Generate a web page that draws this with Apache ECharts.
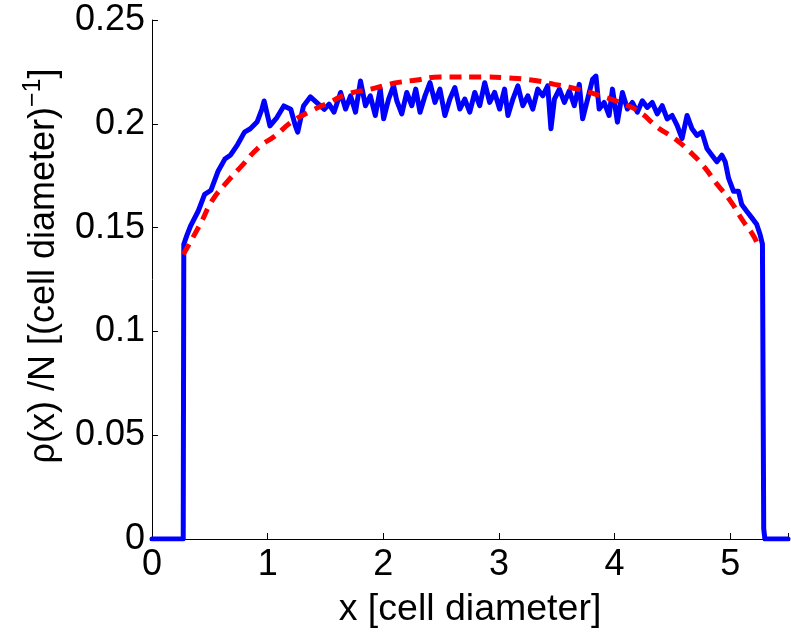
<!DOCTYPE html>
<html>
<head>
<meta charset="utf-8">
<script src="https://cdn.jsdelivr.net/npm/echarts@6/dist/echarts.min.js"></script>
<style>
html,body{margin:0;padding:0;background:#fff;}
#c{width:791px;height:634px;}
</style>
</head>
<body>
<div id="c"></div>
<script>
// Measured density (blue, noisy)
const blueX = [0, 0.27, 0.275, 0.30, 0.335, 0.40, 0.455, 0.51, 0.57, 0.63, 0.68, 0.74, 0.80, 0.85, 0.91, 0.95, 0.97, 1.02, 1.08, 1.14, 1.20, 1.24, 1.26, 1.31, 1.37, 1.43, 1.49,
  1.531, 1.574, 1.631, 1.674, 1.717, 1.760, 1.803, 1.846, 1.888, 1.931, 1.974, 2.003, 2.046, 2.089, 2.117, 2.160, 2.203, 2.247, 2.281, 2.318, 2.361, 2.404, 2.447, 2.490, 2.533, 2.576, 2.619, 2.662, 2.705, 2.748, 2.791, 2.834, 2.877, 2.920, 2.963, 3.006, 3.049, 3.078, 3.121, 3.164, 3.207, 3.250, 3.293, 3.336, 3.379, 3.422, 3.450, 3.480,
  3.523, 3.566, 3.609, 3.652, 3.695, 3.724, 3.767, 3.810, 3.839, 3.867, 3.910, 3.953, 3.982, 4.025, 4.068, 4.111, 4.154, 4.197, 4.240, 4.283, 4.326, 4.369, 4.412, 4.455, 4.498, 4.541, 4.584, 4.627, 4.670, 4.713, 4.756, 4.799, 4.842, 4.885, 4.928, 4.957, 4.986, 5.029, 5.072, 5.100, 5.143, 5.186, 5.229, 5.258, 5.279, 5.290, 5.300, 5.5];
const blueY = [0, 0, 0.142, 0.146, 0.151, 0.158, 0.166, 0.168, 0.177, 0.183, 0.185, 0.190, 0.196, 0.1976, 0.201, 0.207, 0.211, 0.199, 0.203, 0.2086, 0.207, 0.199, 0.196, 0.2086, 0.213, 0.210, 0.207,
  0.2095, 0.2056, 0.2151, 0.2071, 0.2135, 0.2056, 0.2206, 0.2087, 0.2135, 0.204, 0.2167, 0.2024, 0.2119, 0.2183, 0.2111, 0.2048, 0.2151, 0.2087, 0.2167, 0.2056, 0.2135, 0.2198, 0.2103, 0.2167, 0.204, 0.2119, 0.2175, 0.2071, 0.2119, 0.2056, 0.2151, 0.2087, 0.2198, 0.2103, 0.2151, 0.2071, 0.2167, 0.204, 0.2119, 0.2183, 0.2087, 0.2135, 0.2071, 0.2167, 0.2135, 0.2183, 0.1976, 0.2119,
  0.2167, 0.2103, 0.2159, 0.2087, 0.2190, 0.2024, 0.2119, 0.2214, 0.2230, 0.2071, 0.2103, 0.204, 0.2167, 0.2008, 0.2151, 0.2071, 0.2103, 0.2056, 0.2111, 0.2079, 0.2103, 0.2048, 0.2087, 0.2024, 0.204, 0.1992, 0.1929, 0.204, 0.1976, 0.1944, 0.196, 0.1881, 0.1849, 0.1817, 0.1849, 0.1817, 0.1738, 0.1675, 0.1675, 0.1611, 0.1579, 0.1548, 0.1516, 0.1468, 0.142, 0.005, 0, 0];
// Model curve (red, dashed)
const redX = [0.27, 0.42, 0.52, 0.64, 0.78, 0.93, 1.06, 1.21, 1.37, 1.54, 1.69, 1.89, 2.09, 2.29, 2.49, 2.89, 3.05, 3.28, 3.48, 3.68, 3.88, 4.08, 4.22, 4.37, 4.52, 4.65, 4.77, 4.88, 5.0, 5.11, 5.21, 5.25];
const redY = [0.137, 0.152, 0.163, 0.1714, 0.180, 0.189, 0.194, 0.201, 0.206, 0.2105, 0.2143, 0.2167, 0.2195, 0.2211, 0.2225, 0.2225, 0.2222, 0.2211, 0.219, 0.2167, 0.2135, 0.2095, 0.2056, 0.1984, 0.1929, 0.1866, 0.1796, 0.1714, 0.163, 0.1533, 0.1452, 0.1395];
const xTicks = [0, 1, 2, 3, 4, 5];
const yTicks = ['0', '0.05', '0.1', '0.15', '0.2', '0.25'];

const font = 'Liberation Sans, Arial, Helvetica, sans-serif';
const chart = echarts.init(document.getElementById('c'), null, {renderer: 'canvas'});
chart.setOption({
  animation: false,
  backgroundColor: '#fff',
  grid: {left: 152, top: 20, right: 0, bottom: 89, containLabel: false},
  xAxis: {
    type: 'value', min: 0, max: 5.5, interval: 1,
    name: 'x [cell diameter]', nameLocation: 'middle', nameGap: 52,
    nameTextStyle: {fontFamily: font, fontSize: 37.5, color: '#000'},
    axisLine: {show: true, lineStyle: {color: '#000', width: 1}},
    axisTick: {show: true, inside: true, length: 6, lineStyle: {color: '#000'}},
    axisLabel: {fontFamily: font, fontSize: 36, color: '#000', margin: 8,
      formatter: v => (xTicks.indexOf(v) >= 0 ? String(v) : '')},
    splitLine: {show: false}
  },
  yAxis: {
    type: 'value', min: 0, max: 0.25, interval: 0.05,
    axisLine: {show: true, lineStyle: {color: '#000', width: 1}},
    axisTick: {show: true, inside: true, length: 6, lineStyle: {color: '#000'}},
    axisLabel: {fontFamily: font, fontSize: 36, color: '#000', margin: 7,
      formatter: (v, i) => yTicks[i] !== undefined ? yTicks[i] : String(v)},
    splitLine: {show: false}
  },
  graphic: [{
    type: 'text', x: 44, y: 266, rotation: Math.PI / 2, z: 10,
    style: {
      text: '{a|ρ(x) /N [(cell diameter)}{s|−1}{a|]}',
      align: 'center', verticalAlign: 'middle',
      rich: {
        a: {fontFamily: font, fontSize: 36, fill: '#000'},
        s: {fontFamily: font, fontSize: 25, fill: '#000', padding: [0, 0, 22, 0]}
      }
    }
  }],
  series: [
    {
      type: 'line', showSymbol: false, symbol: 'none',
      data: blueX.map((x, i) => [x, blueY[i]]),
      lineStyle: {color: '#0000ff', width: 5, join: 'round', cap: 'round'},
      z: 2
    },
    {
      type: 'line', showSymbol: false, symbol: 'none', smooth: true,
      data: redX.map((x, i) => [x, redY[i]]),
      lineStyle: {color: '#ff0000', width: 5, type: [12, 8]},
      z: 3
    }
  ]
});
</script>
</body>
</html>
